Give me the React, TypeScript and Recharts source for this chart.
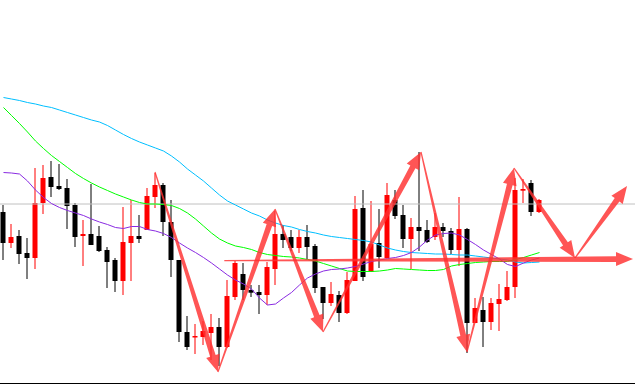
import React from 'react';
import { ComposedChart, Bar, Line, XAxis, YAxis, ReferenceLine } from 'recharts';

// Candle values (price units)
const opens = [173, 142, 149, 132, 127, 182, 208, 199, 197, 180, 149, 151, 149, 135, 125, 104, 142, 149, 155, 188, 200, 163, 125, 53, 47.5, 48, 52, 58, 38, 88, 111, 95, 93, 90, 116, 151, 148, 137, 148, 139, 98, 82, 90, 72, 104, 177, 113, 142, 127, 185, 170, 146, 158, 155, 148, 158, 154, 135, 156, 62, 75, 63, 81, 85, 98, 194.3, 202, 173];
const highs = [180, 161, 155, 147, 217, 220, 224, 221, 206, 182, 165, 201, 159, 138, 127, 178, 185, 170, 197, 212, 202, 185, 125, 69, 61, 64, 71, 67, 105, 124, 122, 100, 100, 123, 174, 160, 155, 155, 160, 141, 98, 103, 94, 113, 189, 195, 184, 176, 202, 195, 180, 167, 233, 165, 172, 162, 157, 188, 157, 87, 88, 87, 101, 114, 207, 206, 205, 186];
const lows = [125, 137, 121, 106, 116, 171, 188, 195, 156, 138, 119, 140, 133, 97, 93, 90, 104, 142, 155, 177, 149, 108, 43, 35, 31, 40, 25, 19, 37, 85, 85, 88, 71, 80, 100, 137, 134, 132, 126, 92, 66, 79, 63, 71, 104, 104, 113, 117, 127, 166, 137, 116, 134, 142, 145, 148, 131, 119, 32, 62, 38, 55, 54, 84, 87, 182, 169, 172];
const closes = [142, 148, 131, 127, 182, 207, 198, 196, 179, 148, 151, 140, 134, 123, 104, 143, 149, 146, 189, 200, 163, 125, 53, 38, 49, 54, 58, 38, 89, 122, 95, 92.3, 90, 118, 151, 145, 137, 148, 138, 97, 82, 91, 72, 105, 176, 108, 141, 128, 190, 169, 146, 158, 154, 143, 158, 154, 135, 156, 62, 77, 63, 82, 86, 98, 195, 196, 173, 185];

// Moving averages
const maSlow = [287.5, 286, 284.5, 282.5, 281, 279, 277.5, 275, 272.5, 270, 267.5, 265, 263, 259.5, 255, 250.5, 246.5, 243, 240, 237, 234, 229, 223, 216, 210, 204, 197, 190, 184, 180, 176, 172, 169, 165, 162, 159.5, 158, 155.5, 153.5, 152, 150, 148.5, 147.5, 146.5, 145.5, 144.5, 143, 140, 137, 135, 133.5, 132.5, 132, 131.5, 131, 131, 130.5, 130, 130, 129, 128, 127, 126, 125, 123, 122, 122.5, 123];
const maMid = [277.5, 269.5, 261.5, 253, 244, 236.5, 229.5, 223.5, 217.5, 211.5, 206.5, 202, 198, 194.5, 191, 188, 185, 182.5, 181, 181, 180.5, 179.5, 176.5, 172, 166, 159, 152, 146, 142, 139, 137.5, 135.5, 132.5, 130.5, 129.5, 128.5, 128, 127, 125.5, 124, 121.5, 119, 116.5, 114, 113.5, 113.5, 113.5, 114, 115, 116.5, 116, 115.5, 115, 114.5, 114.5, 115.5, 119, 120.5, 121.5, 122.5, 123, 123.5, 123.5, 123.5, 125.5, 127.5, 130, 132.5];
const maFast = [212.5, 212, 211, 204, 195, 187.5, 181.5, 177.5, 174.5, 172, 169.5, 166, 163, 160.5, 157.5, 156.5, 158.5, 158.5, 155.5, 154, 151.5, 147.5, 142, 137, 132.5, 127.5, 122, 116, 110, 105, 101, 96, 87, 80, 81, 87, 92.5, 100, 107, 111, 114, 115.5, 116, 117, 118.5, 121, 123.5, 125, 126.5, 127.5, 129.5, 132.5, 138, 145, 150, 151.5, 152, 150, 145.5, 140.5, 135, 130.5, 126, 120.5, 118.5, 122, 125, 127];

// Level lines
const levelPrice = 181;
const baseLine = 1.5;

// Drawn arrows (bar index, price)
const arrowX1 = [18.94, 26.81, 33.94, 39.94, 52.19, 57.94, 63.81, 71.44, 27.6];
const arrowY1 = [213, 13, 176, 53, 233, 33, 217, 127, 124.3];
const arrowX2 = [26.81, 33.94, 39.94, 52.19, 57.94, 63.81, 71.44, 77.94, 78.69];
const arrowY2 = [13, 176, 53, 233, 33, 217, 127, 199, 126];

const data = opens.map((o, i) => ({
  i,
  open: o,
  high: highs[i],
  low: lows[i],
  close: closes[i],
  range: [lows[i], highs[i]],
  maSlow: maSlow[i],
  maMid: maMid[i],
  maFast: maFast[i],
}));

const Candle = (props: any) => {
  const { x, y, width, height, payload } = props;
  if (x == null || y == null || !payload) return null;
  const { open, close, high, low } = payload;
  const up = close >= open;
  const color = up ? '#ff0000' : '#000000';
  const ppu = height / (high - low);
  const bodyTop = y + (high - Math.max(open, close)) * ppu;
  const bodyBottom = y + (high - Math.min(open, close)) * ppu;
  return (
    <g>
      <line x1={x + width / 2} x2={x + width / 2} y1={y} y2={y + height} stroke={color} strokeWidth={1} />
      <rect x={x} y={bodyTop} width={width} height={Math.max(1, bodyBottom - bodyTop)} fill={color} />
    </g>
  );
};

const Arrow = (props: any) => {
  const { x1, y1, x2, y2 } = props;
  if ([x1, y1, x2, y2].some((v) => v == null || isNaN(v))) return null;
  const dx = x2 - x1;
  const dy = y2 - y1;
  const len = Math.hypot(dx, dy) || 1;
  const ux = dx / len;
  const uy = dy / len;
  const nx = -uy;
  const ny = ux;
  const headLen = 17;
  const headW = 7;
  const w0 = 0.6;
  const w1 = 2.9;
  const bx = x2 - ux * headLen;
  const by = y2 - uy * headLen;
  const pts = [
    [x1 + nx * w0, y1 + ny * w0],
    [bx + nx * w1, by + ny * w1],
    [bx + nx * headW, by + ny * headW],
    [x2, y2],
    [bx - nx * headW, by - ny * headW],
    [bx - nx * w1, by - ny * w1],
    [x1 - nx * w0, y1 - ny * w0],
  ];
  return <polygon points={pts.map((p) => p.join(',')).join(' ')} fill="#ff3030" fillOpacity={0.82} />;
};

export default function App() {
  return (
    <div style={{ position: 'absolute', left: 0, top: 0, width: 635, height: 385, background: '#ffffff' }}>
      <ComposedChart width={635} height={385} data={data} margin={{ top: 0, right: 0, bottom: 0, left: 0 }}>
        <XAxis dataKey="i" type="number" domain={[-0.4375, 78.9375]} hide allowDataOverflow />
        <YAxis type="number" domain={[0, 385]} hide allowDataOverflow />
        <ReferenceLine y={levelPrice} stroke="#c0c0c0" strokeWidth={1} ifOverflow="visible" />
        <ReferenceLine y={baseLine} stroke="#000000" strokeWidth={1} ifOverflow="visible" />
        <Bar dataKey="range" barSize={5} shape={Candle} isAnimationActive={false} />
        <Line type="linear" dataKey="maSlow" stroke="#00bfff" strokeWidth={1} dot={false} activeDot={false} isAnimationActive={false} />
        <Line type="linear" dataKey="maMid" stroke="#00ff00" strokeWidth={1} dot={false} activeDot={false} isAnimationActive={false} />
        <Line type="linear" dataKey="maFast" stroke="#8a2be2" strokeWidth={1} dot={false} activeDot={false} isAnimationActive={false} />
        {arrowX1.map((x1, k) => (
          <ReferenceLine
            key={k}
            segment={[{ x: x1, y: arrowY1[k] }, { x: arrowX2[k], y: arrowY2[k] }]}
            shape={Arrow}
            ifOverflow="visible"
          />
        ))}
      </ComposedChart>
    </div>
  );
}
